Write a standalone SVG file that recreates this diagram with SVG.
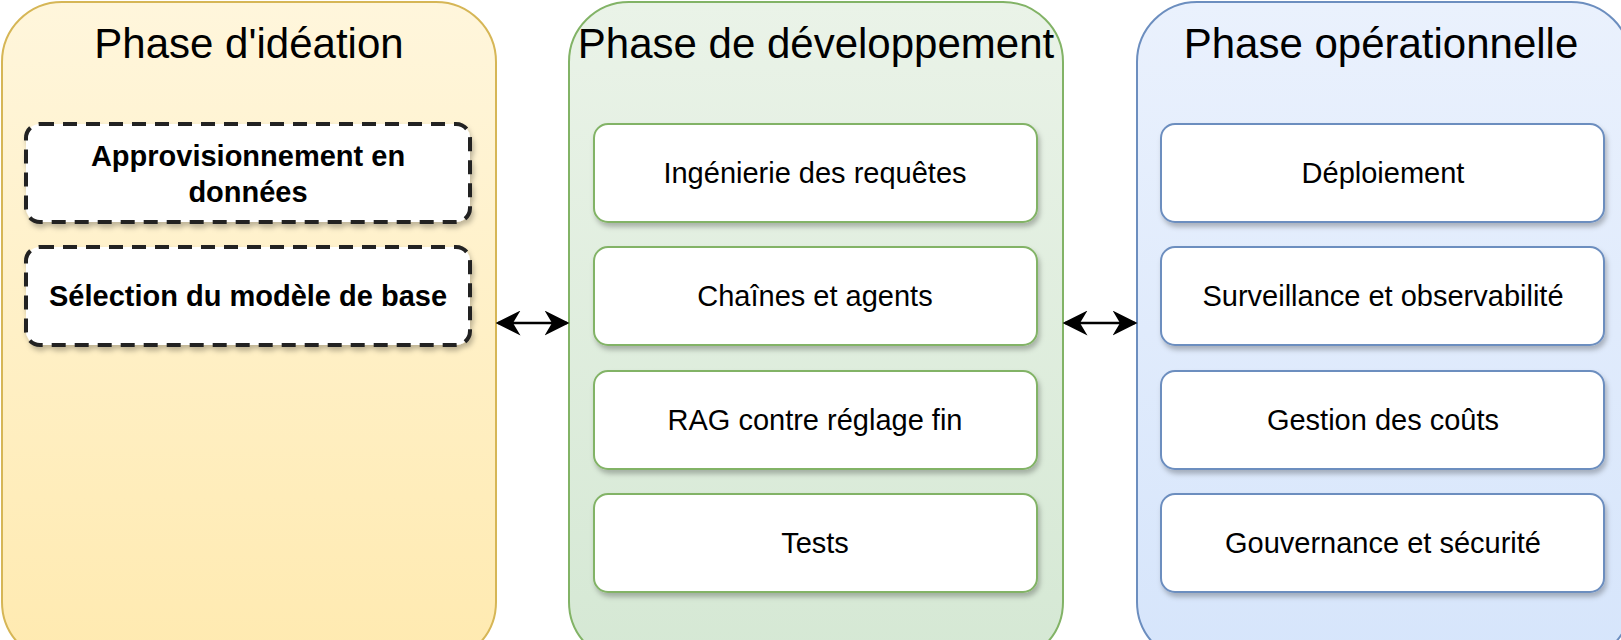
<svg xmlns="http://www.w3.org/2000/svg" width="1621" height="640" viewBox="0 0 1621 640">
<defs>
<linearGradient id="gy" x1="0" y1="0" x2="0" y2="1"><stop offset="0" stop-color="#fff6dc"/><stop offset="1" stop-color="#ffeab0"/></linearGradient>
<linearGradient id="gg" x1="0" y1="0" x2="0" y2="1"><stop offset="0" stop-color="#eaf3e8"/><stop offset="1" stop-color="#d5e8d4"/></linearGradient>
<linearGradient id="gb" x1="0" y1="0" x2="0" y2="1"><stop offset="0" stop-color="#eaf1fd"/><stop offset="1" stop-color="#d6e5fb"/></linearGradient>
<filter id="sh" x="-10%" y="-20%" width="120%" height="150%"><feDropShadow dx="2" dy="4" stdDeviation="2.5" flood-color="#000" flood-opacity="0.25"/></filter>
<marker id="ar" viewBox="0 0 10 10" refX="9" refY="5" markerWidth="10" markerHeight="10" orient="auto-start-reverse"><path d="M0,0 L10,5 L0,10 L3,5 Z" fill="#000"/></marker>
</defs>
<style>
.t{font-family:"Liberation Sans",Arial,sans-serif;font-size:42px;fill:#000;text-anchor:middle}
.l{font-family:"Liberation Sans",Arial,sans-serif;font-size:29px;fill:#000;text-anchor:middle}
.b{font-weight:bold}
.box{fill:#fff;stroke-width:2;filter:url(#sh)}
.g .box{stroke:#82b366}
.bl .box{stroke:#6c8ebf}
.d{fill:#fff;stroke:#222;stroke-width:4;stroke-dasharray:14 9;filter:url(#sh)}
</style>
<g id="ideation">
<rect x="2" y="2" width="494" height="660" rx="60" fill="url(#gy)" stroke="#d6b656" stroke-width="2"/>
<text class="t" x="249" y="58">Phase d'idéation</text>
</g>
<g id="dev">
<rect x="569" y="2" width="494" height="660" rx="60" fill="url(#gg)" stroke="#82b366" stroke-width="2"/>
<text class="t" x="816" y="58">Phase de développement</text>
</g>
<g id="ops">
<rect x="1137" y="2" width="494" height="660" rx="60" fill="url(#gb)" stroke="#6c8ebf" stroke-width="2"/>
<text class="t" x="1381" y="58">Phase opérationnelle</text>
</g>
<g id="n1"><rect class="d" x="26" y="124" width="444" height="98" rx="14"/><text class="l b" x="248" y="166">Approvisionnement en</text><text class="l b" x="248" y="202">données</text></g>
<g id="n2"><rect class="d" x="26" y="247" width="444" height="98" rx="14"/><text class="l b" x="248" y="306">Sélection du modèle de base</text></g>
<g class="g">
<g id="n3"><rect class="box" x="594" y="124" width="443" height="98" rx="14"/><text class="l" x="815" y="183">Ingénierie des requêtes</text></g>
<g id="n4"><rect class="box" x="594" y="247" width="443" height="98" rx="14"/><text class="l" x="815" y="306">Chaînes et agents</text></g>
<g id="n5"><rect class="box" x="594" y="371" width="443" height="98" rx="14"/><text class="l" x="815" y="430">RAG contre réglage fin</text></g>
<g id="n6"><rect class="box" x="594" y="494" width="443" height="98" rx="14"/><text class="l" x="815" y="553">Tests</text></g>
</g>
<g class="bl">
<g id="n7"><rect class="box" x="1161" y="124" width="443" height="98" rx="14"/><text class="l" x="1383" y="183">Déploiement</text></g>
<g id="n8"><rect class="box" x="1161" y="247" width="443" height="98" rx="14"/><text class="l" x="1383" y="306">Surveillance et observabilité</text></g>
<g id="n9"><rect class="box" x="1161" y="371" width="443" height="98" rx="14"/><text class="l" x="1383" y="430">Gestion des coûts</text></g>
<g id="n10"><rect class="box" x="1161" y="494" width="443" height="98" rx="14"/><text class="l" x="1383" y="553">Gouvernance et sécurité</text></g>
</g>
<g id="connectors" stroke="#000" stroke-width="2.5" fill="none">
<line x1="498" y1="323" x2="567" y2="323" marker-start="url(#ar)" marker-end="url(#ar)"/>
<line x1="1065" y1="323" x2="1135" y2="323" marker-start="url(#ar)" marker-end="url(#ar)"/>
</g>
</svg>
